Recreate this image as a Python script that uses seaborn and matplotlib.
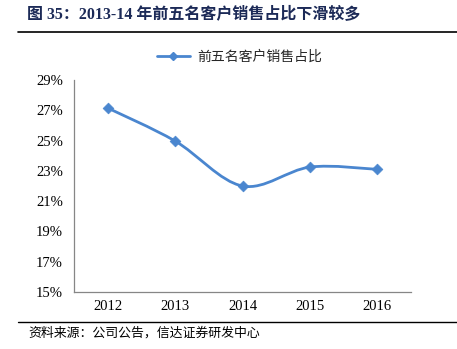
import numpy as np
import pandas as pd
import matplotlib
matplotlib.use("Agg")
import matplotlib.pyplot as plt
from matplotlib.path import Path
from matplotlib.patches import PathPatch
from matplotlib.lines import Line2D
from matplotlib.ticker import FixedLocator
import seaborn as sns

years = ["2012", "2013", "2014", "2015", "2016"]
share = [27.15, 24.97, 22.0, 23.25, 23.1]
y_ticks = [15, 17, 19, 21, 23, 25, 27, 29]
series_name = "前五名客户销售占比"
title = "图 35：2013-14 年前五名客户销售占比下滑较多"
source = "资料来源：公司公告，信达证券研发中心"

LINE_COLOR = "#4A86CF"
TITLE_COLOR = "#1C2A57"

sns.set_theme(style="white")
plt.rcParams["font.family"] = ["Liberation Serif", "Noto Sans CJK SC", "DejaVu Sans"]

df = pd.DataFrame({"idx": np.arange(len(years)), "share": share})

fig = plt.figure(figsize=(4.57, 3.49), dpi=100)
ax = fig.add_axes([74 / 457, 1 - 292 / 349, (411 - 74) / 457, (292 - 80) / 349])

# smoothed line through the points (cubic Bezier, Catmull-Rom style control points)
pts = df[["idx", "share"]].to_numpy(dtype=float)
ext = np.vstack([pts[0], pts, pts[-1]])
verts = [tuple(pts[0])]
codes = [Path.MOVETO]
for i in range(len(pts) - 1):
    p0, p1, p2, p3 = ext[i], ext[i + 1], ext[i + 2], ext[i + 3]
    c1 = p1 + (p2 - p0) / 6.0
    c2 = p2 - (p3 - p1) / 6.0
    verts += [tuple(c1), tuple(c2), tuple(p2)]
    codes += [Path.CURVE4] * 3
ax.add_patch(PathPatch(Path(verts, codes), facecolor="none", edgecolor=LINE_COLOR,
                       lw=2.0, capstyle="round", joinstyle="round", zorder=2))

sns.scatterplot(data=df, x="idx", y="share", marker="D", s=30, color=LINE_COLOR,
                edgecolor=LINE_COLOR, linewidth=0.5, ax=ax, zorder=3, legend=False)

ax.set_xlim(-0.5, len(years) - 0.5)
ax.set_ylim(y_ticks[0], y_ticks[-1])
ax.set_xticks(range(len(years)))
ax.set_xticklabels(years)
ax.xaxis.set_minor_locator(FixedLocator(np.arange(-0.5, len(years), 1.0)))
ax.set_yticks(y_ticks)
ax.set_yticklabels([f"{v}%" for v in y_ticks])
ax.set_xlabel("")
ax.set_ylabel("")

for s in ["top", "right"]:
    ax.spines[s].set_visible(False)
for s in ["left", "bottom"]:
    ax.spines[s].set_color("#868686")
    ax.spines[s].set_linewidth(0.9)

ax.tick_params(axis="x", which="major", length=0, labelsize=10.5, pad=6, colors="#000000")
ax.tick_params(axis="x", which="minor", direction="in", length=4, width=0.9, color="#868686")
ax.tick_params(axis="y", which="major", direction="in", length=4, width=0.9, color="#868686",
               labelsize=10.5, pad=8, labelcolor="#000000")

handle = Line2D([], [], color=LINE_COLOR, lw=2.0, marker="D", markersize=4)
ax.legend([handle], [series_name], loc="center", bbox_to_anchor=(0.49, 1.11), frameon=False,
          prop={"family": ["Noto Sans CJK SC"], "size": 10}, handlelength=2.4,
          handletextpad=0.5)

# title, rules and source note
fig.text(27 / 457, 1 - 15 / 349, title, ha="left", va="center", fontsize=11.5,
         fontweight="bold", color=TITLE_COLOR,
         family=["Liberation Serif", "Noto Sans CJK SC"])
fig.add_artist(Line2D([18 / 457, 1.0], [1 - 32 / 349] * 2, color="#000000", lw=1.2))
fig.add_artist(Line2D([18 / 457, 1.0], [1 - 322 / 349] * 2, color="#000000", lw=1.0))
fig.text(28 / 457, 1 - 333 / 349, source, ha="left", va="center", fontsize=9.3,
         color="#000000", family=["Noto Sans CJK SC"])

fig.savefig("out.png", dpi=100)
